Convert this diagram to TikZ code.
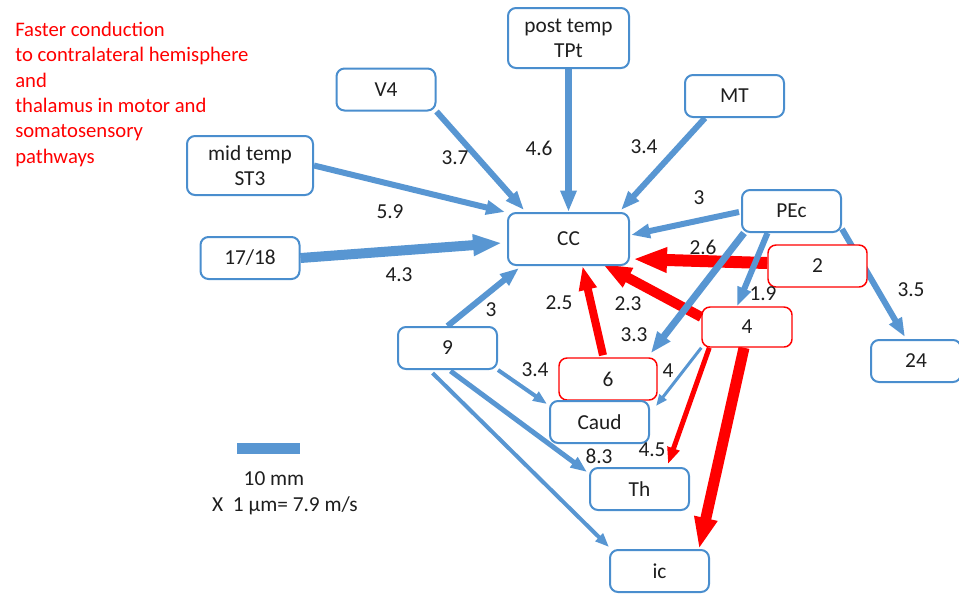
\documentclass[tikz,border=0pt]{standalone}
\usepackage{fontspec}
\setmainfont{Carlito}
\usetikzlibrary{arrows.meta,calc}
\definecolor{bblue}{RGB}{74,142,206}
\definecolor{ablue}{RGB}{88,150,210}
\definecolor{lbl}{RGB}{30,30,30}
\pgfdeclarelayer{bg}
\pgfsetlayers{bg,main}
\tikzset{
 box/.style={draw=bblue, line width=1.5pt, rounded corners=6pt, fill=white,
   minimum width=74.25pt, minimum height=31.5pt, inner sep=0pt, align=center,
   font=\fontsize{16}{19}\selectfont, text=lbl},
 rbox/.style={box, draw=red, line width=1.1pt},
 lab/.style={font=\fontsize{16}{18}\selectfont, text=lbl, inner sep=0pt},
 conn/.style={line width=#1*0.75pt, -{Triangle[width=3pt 1.6, length=3pt 2.5]}},
 bl/.style={conn=#1, draw=ablue},
 rd/.style={conn=#1, draw=red},
}
\begin{document}
\begin{tikzpicture}[x=0.75pt,y=-0.75pt]
\useasboundingbox (0,0) rectangle (959,594);

% boxes
\node[box, minimum width=90.75pt, minimum height=45pt] (TPt) at (568.5,38) {post temp\\TPt};
\node[box] (V4) at (386,89.5) {V4};
\node[box] (MT) at (734.5,96) {MT};
\node[box, minimum width=94.5pt, minimum height=44.25pt] (ST3) at (250,165.5) {mid temp\\ST3};
\node[box] (V1) at (250,258) {17/18};
\node[box, minimum width=90.75pt, minimum height=39pt] (CC) at (568.5,239) {CC};
\node[box] (PEc) at (791.5,211) {PEc};
\node[rbox] (n2) at (817.5,266) {2};
\node[box, minimum width=67.5pt] (n24) at (916,361) {24};
\node[rbox, minimum width=67.5pt, minimum height=30pt] (n4) at (747,327) {4};
\node[box] (n9) at (447.5,348) {9};
\node[rbox, minimum width=73.5pt] (n6) at (608,379) {6};
\node[box] (Caud) at (599.5,422) {Caud};
\node[box] (Th) at (639.5,489) {Th};
\node[box] (ic) at (659.5,571) {ic};

% connectors
\begin{pgfonlayer}{bg}
\draw[bl=6] (V4.south east) -- ($(CC.north west)+(17,-2)$);
\draw[bl=7] (TPt.south) -- (CC.north);
\draw[bl=6] ($(MT.south west)+(21,0)$) -- ($(CC.north east)+(-9,-2)$);
\draw[bl=6] (ST3.east) -- ($(CC.north west)+(-2,0)$);
\draw[bl=10] (V1.east) -- ($(CC.west)+(-5,4)$);
\draw[bl=6] (n9.north) -- ($(CC.south west)+(12,2)$);
\draw[bl=6] ($(PEc.west)+(-2,1)$) -- ($(CC.east)+(1,-4)$);
\draw[rd=12] ($(n2.west)+(0,-3)$) -- ($(CC.south east)+(3,-7)$);
\draw[rd=10] ($(n4.west)+(0,-10)$) -- ($(CC.south)+(34,-2)$);
\draw[rd=8] ($(n6.north)+(-5,-2)$) -- ($(CC.south)+(14,0)$);
\draw[bl=7] ($(PEc.south west)+(3,0)$) -- ($(n6.north east)+(-7,-4)$);
\draw[bl=6] ($(PEc.south)+(-24,0)$) -- ($(n4.north)+(-10,0)$);
\draw[bl=6] ($(PEc.south east)+(0,-4)$) -- ($(n24.north)+(-11,-2)$);
\draw[bl=3] (n4.south west) -- ($(Caud.north east)+(6,6)$);
\draw[rd=5] ($(n4.south west)+(8,0)$) -- ($(Th.north east)+(-22,-3)$);
\draw[rd=11] ($(n4.south)+(-3,0)$) -- ($(ic.north east)+(-11,0)$);
\draw[bl=4] (n9.south east) -- ($(Caud.north west)+(-2,4)$);
\draw[bl=5] ($(n9.south)+(3,1)$) -- ($(Th.north west)+(-2,5)$);
\draw[bl=4] ($(n9.south)+(-15,3)$) -- ($(ic.north west)+(0,-2)$);
\end{pgfonlayer}

% labels
\node[lab] (l1) at (455,158) {3.7};
\node[lab] (l2) at (539,148) {4.6};
\node[lab] (l3) at (644,147) {3.4};
\node[lab] (l4) at (390,212) {5.9};
\node[lab] (l5) at (399,275) {4.3};
\node[lab] (l6) at (491,310) {3};
\node[lab] (l7) at (699,198) {3};
\node[lab] (l8) at (703,247) {2.6};
\node[lab] (l9) at (763,294) {1.9};
\node[lab] (l10) at (911,290) {3.5};
\node[lab] (l11) at (628,304) {2.3};
\node[lab] (l12) at (559,303) {2.5};
\node[lab] (l13) at (634,335) {3.3};
\node[lab] (l14) at (668,371) {4};
\node[lab] (l15) at (535,370) {3.4};
\node[lab] (l16) at (599,456) {8.3};
\node[lab] (l17) at (652,450) {4.5};

% legend
\fill[ablue] (237,443) rectangle (300,454);
\node[lab] (lg1) at (274,479) {10 mm};
\node[lab] (lg2) at (285,506) {X\ \ 1 µm= 7.9 m/s};

% note
\node[anchor=north west, align=left, inner sep=0pt, text=red,
  font=\fontsize{15.5}{19}\selectfont] (note) at (15,22)
  {Faster conduction\\to contralateral hemisphere\\and\\thalamus in motor and\\somatosensory\\pathways};
\end{tikzpicture}
\end{document}
